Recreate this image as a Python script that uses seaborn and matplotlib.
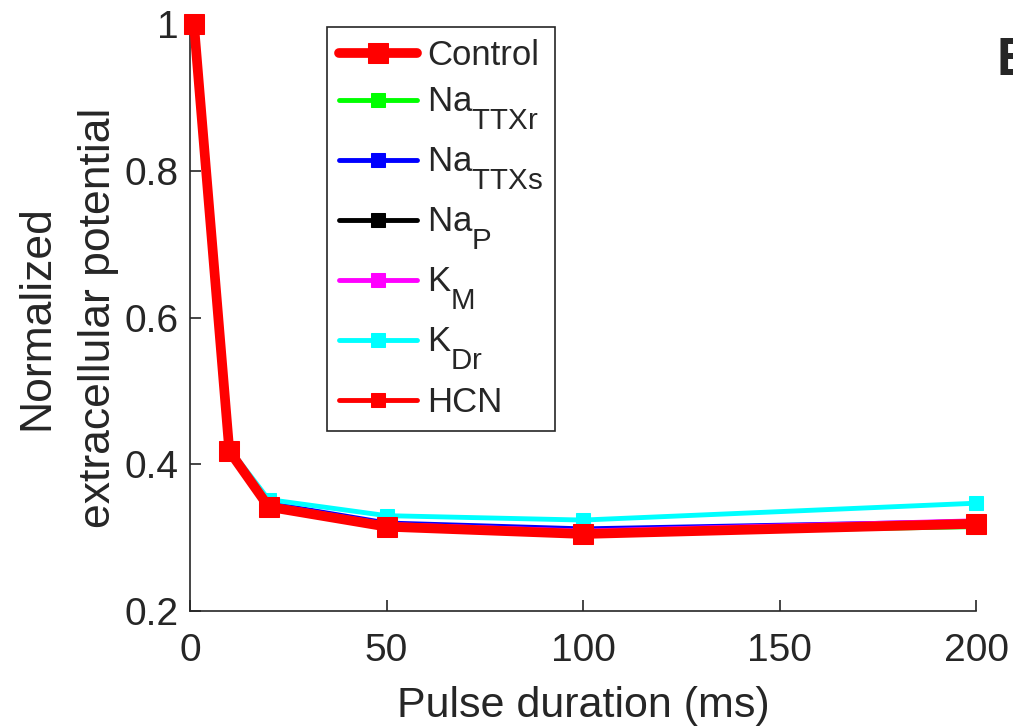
import numpy as np
import pandas as pd
import matplotlib
matplotlib.use('Agg')
import matplotlib.pyplot as plt
import seaborn as sns

# pulse durations (ms)
durations = [1, 10, 20, 50, 100, 200]

# normalized extracellular potential
control = [1.0, 0.418, 0.342, 0.315, 0.305, 0.319]
na_ttxr = [1.0, 0.418, 0.344, 0.316, 0.306, 0.315]
na_ttxs = [1.0, 0.419, 0.347, 0.320, 0.312, 0.322]
na_p = [1.0, 0.417, 0.342, 0.314, 0.305, 0.318]
k_m = [1.0, 0.418, 0.345, 0.318, 0.309, 0.323]
k_dr = [1.0, 0.422, 0.352, 0.330, 0.324, 0.347]
hcn = [1.0, 0.418, 0.343, 0.316, 0.306, 0.320]

labels = ['Control', r'$\mathrm{Na_{TTXr}}$', r'$\mathrm{Na_{TTXs}}$', r'$\mathrm{Na_{P}}$',
          r'$\mathrm{K_{M}}$', r'$\mathrm{K_{Dr}}$', 'HCN']
colors = ['#ff0000', '#00ff00', '#0000ff', '#000000', '#ff00ff', '#00ffff', '#ff0000']
series = [control, na_ttxr, na_ttxs, na_p, k_m, k_dr, hcn]

# bigger, lower subscripts like the original figure
try:
    import matplotlib._mathtext as _mt
    _mt.SHRINK_FACTOR = 0.85
    _mt.FontConstantsBase.sub1 = 0.95
    _mt.FontConstantsBase.subdrop = 0.95
except Exception:
    pass

sns.set_style('ticks')
plt.rcParams['font.family'] = ['Liberation Sans', 'DejaVu Sans']
plt.rcParams['mathtext.fontset'] = 'custom'
plt.rcParams['mathtext.rm'] = 'Liberation Sans'
plt.rcParams['mathtext.it'] = 'Liberation Sans:italic'
plt.rcParams['mathtext.bf'] = 'Liberation Sans:bold'

fig = plt.figure(figsize=(10.13, 7.28), dpi=100)
ax = fig.add_axes([0.1876, 0.1607, 0.776, 0.806])

for i, (lab, col, vals) in enumerate(zip(labels, colors, series)):
    df = pd.DataFrame({'x': durations, 'y': vals})
    if i == 0:
        lw, ms, z = 7, 14, 10
    else:
        lw, ms, z = 3.5, 9.5, 3 + i
    sns.lineplot(data=df, x='x', y='y', ax=ax, color=col, lw=lw, marker='s',
                 markersize=ms, markeredgecolor=col, label=lab, zorder=z, clip_on=False)

ax.set_xlim(0, 200)
ax.set_ylim(0.2, 1.0)
ax.set_xticks([0, 50, 100, 150, 200])
ax.set_yticks([0.2, 0.4, 0.6, 0.8, 1.0])
ax.set_yticklabels(['0.2', '0.4', '0.6', '0.8', '1'])
ax.tick_params(direction='in', length=8, width=1.2, labelsize=28, colors='#262626')
ax.tick_params(axis='x', pad=16)
ax.tick_params(axis='y', pad=8)
for s in ['left', 'bottom']:
    ax.spines[s].set_color('#262626')
    ax.spines[s].set_linewidth(1.2)
sns.despine(ax=ax)
ax.set_xlabel('Pulse duration (ms)', fontsize=31, color='#262626', labelpad=12)
ax.set_ylabel('Normalized\nextracellular potential', fontsize=32, color='#262626', labelpad=4,
              linespacing=1.65)

leg = ax.legend(loc='upper left', bbox_to_anchor=(0.174, 0.995), fontsize=25, frameon=True,
                fancybox=False, edgecolor='#262626', framealpha=1, handlelength=2.25,
                handletextpad=0.28, labelspacing=0.4, borderpad=0.35, borderaxespad=0)
leg.get_frame().set_linewidth(1.2)

fig.text(0.984, 0.897, 'B', fontsize=38, fontweight='bold', ha='left', va='baseline')

fig.savefig('out.png', dpi=100)
